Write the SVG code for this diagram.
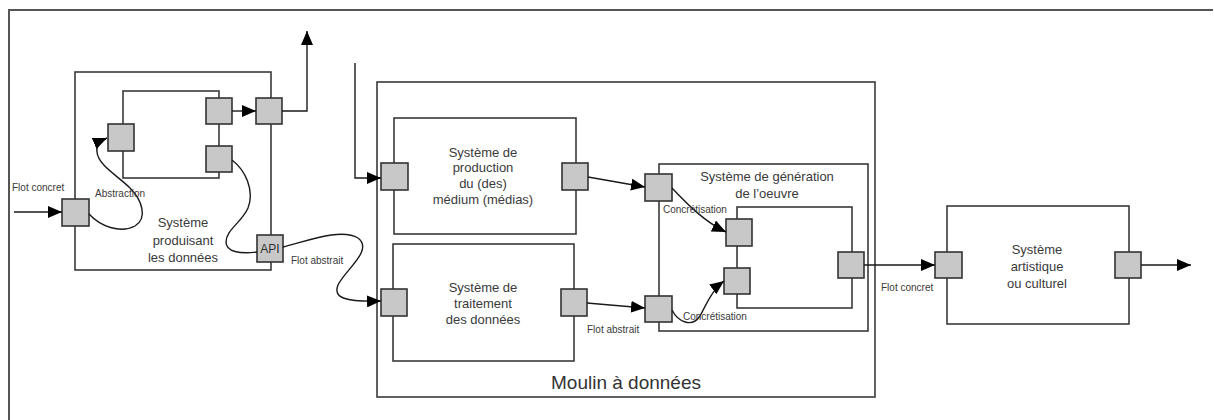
<svg xmlns="http://www.w3.org/2000/svg" width="1214" height="420" viewBox="0 0 1214 420">
<style>
.box{fill:#fff;stroke:#3a3a3a;stroke-width:1.6}
.port{fill:#c8c8c8;stroke:#333;stroke-width:1.6}
.wire{fill:none;stroke:#1a1a1a;stroke-width:1.4}
.t{font-family:"Liberation Sans",Arial,sans-serif;font-size:13px;fill:#3a3a3a;text-anchor:middle}
.s{font-family:"Liberation Sans",Arial,sans-serif;font-size:10px;fill:#3a3a3a}
</style>
<defs>
<marker id="ah" viewBox="0 0 14 12" refX="14" refY="6" markerWidth="14" markerHeight="12" markerUnits="userSpaceOnUse" orient="auto">
<path d="M0,0 L14,6 L0,12 Z" fill="#000"/>
</marker>
</defs>
<rect width="1214" height="420" fill="#fff"/>
<path d="M9,420 V10 H1213" fill="none" stroke="#555" stroke-width="2"/>

<g id="systeme-produisant">
<rect class="box" x="75" y="72" width="196" height="198"/>
<text class="t" x="183" y="227">Système</text>
<text class="t" x="183" y="245">produisant</text>
<text class="t" x="183" y="262">les données</text>
<rect class="port" x="62" y="199" width="27" height="27"/>
<rect class="port" x="256" y="98" width="26" height="26"/>
<rect class="port" x="257" y="235" width="26" height="27"/>
<text x="270" y="253" font-family="Liberation Sans,Arial,sans-serif" font-size="12" fill="#333" text-anchor="middle">API</text>
</g>

<g id="sous-systeme-produisant">
<rect class="box" x="123" y="91" width="96" height="87"/>
<rect class="port" x="108" y="124" width="26" height="27"/>
<rect class="port" x="206" y="98" width="26" height="26"/>
<rect class="port" x="206" y="146" width="26" height="26"/>
</g>

<g id="moulin">
<rect class="box" x="377" y="82" width="498" height="315"/>
<text x="626" y="389" font-family="Liberation Sans,Arial,sans-serif" font-size="19" fill="#333" text-anchor="middle">Moulin à données</text>
</g>

<g id="production">
<rect class="box" x="394" y="118" width="182" height="116"/>
<text class="t" x="483" y="157">Système de</text>
<text class="t" x="483" y="172">production</text>
<text class="t" x="483" y="188">du (des)</text>
<text class="t" x="483" y="204">médium (médias)</text>
<rect class="port" x="381" y="163" width="27" height="27"/>
<rect class="port" x="562" y="163" width="26" height="27"/>
</g>

<g id="traitement">
<rect class="box" x="393" y="244" width="181" height="117"/>
<text class="t" x="483" y="292">Système de</text>
<text class="t" x="483" y="308">traitement</text>
<text class="t" x="483" y="324">des données</text>
<rect class="port" x="381" y="289" width="26" height="27"/>
<rect class="port" x="561" y="289" width="26" height="27"/>
</g>

<g id="generation">
<rect class="box" x="659" y="164" width="209" height="167"/>
<text class="t" x="767" y="181">Système de génération</text>
<text class="t" x="767" y="198">de l’oeuvre</text>
<rect class="port" x="645" y="174" width="27" height="27"/>
<rect class="port" x="645" y="296" width="27" height="26"/>
</g>

<g id="generation-interne">
<rect class="box" x="737" y="207" width="115" height="101"/>
<rect class="port" x="726" y="219" width="26" height="27"/>
<rect class="port" x="724" y="268" width="26" height="26"/>
<rect class="port" x="838" y="252" width="26" height="26"/>
</g>

<g id="artistique">
<rect class="box" x="947" y="206" width="182" height="118"/>
<text class="t" x="1037" y="254">Système</text>
<text class="t" x="1037" y="271">artistique</text>
<text class="t" x="1037" y="288">ou culturel</text>
<rect class="port" x="935" y="252" width="27" height="26"/>
<rect class="port" x="1115" y="252" width="26" height="26"/>
</g>

<g id="connecteurs">
<path class="wire" d="M14,212 H62" marker-end="url(#ah)"/>
<path class="wire" d="M232,111 H256" marker-end="url(#ah)"/>
<path class="wire" d="M282,111 H307 V31" marker-end="url(#ah)"/>
<path class="wire" d="M89,214 C100,226 120,234 135,226 C148,218 142,200 130,188 C118,176 98,165 97,152 C96,146 100,141 107,138" marker-end="url(#ah)"/>
<path class="wire" d="M232,160 C245,170 255,190 248,208 C242,222 226,230 226,242 C226,252 240,254 257,252"/>
<path class="wire" d="M283,247 C310,240 342,228 358,238 C374,250 345,270 338,285 C333,298 345,302 381,301" marker-end="url(#ah)"/>
<path class="wire" d="M355,63 V178 H381" marker-end="url(#ah)"/>
<path class="wire" d="M588,177 L645,187" marker-end="url(#ah)"/>
<path class="wire" d="M587,303 L645,308" marker-end="url(#ah)"/>
<path class="wire" d="M672,188 C688,205 705,222 726,232" marker-end="url(#ah)"/>
<path class="wire" d="M672,310 C678,322 692,328 700,316 C706,305 712,290 724,281" marker-end="url(#ah)"/>
<path class="wire" d="M864,265 H935" marker-end="url(#ah)"/>
<path class="wire" d="M1141,265 H1191" marker-end="url(#ah)"/>
<text class="s" x="12" y="191">Flot concret</text>
<text class="s" x="95" y="197">Abstraction</text>
<text class="s" x="291" y="264">Flot abstrait</text>
<text class="s" x="587" y="333">Flot abstrait</text>
<text class="s" x="663" y="213">Concrétisation</text>
<text class="s" x="683" y="320">Concrétisation</text>
<text class="s" x="881" y="291">Flot concret</text>
</g>
</svg>
